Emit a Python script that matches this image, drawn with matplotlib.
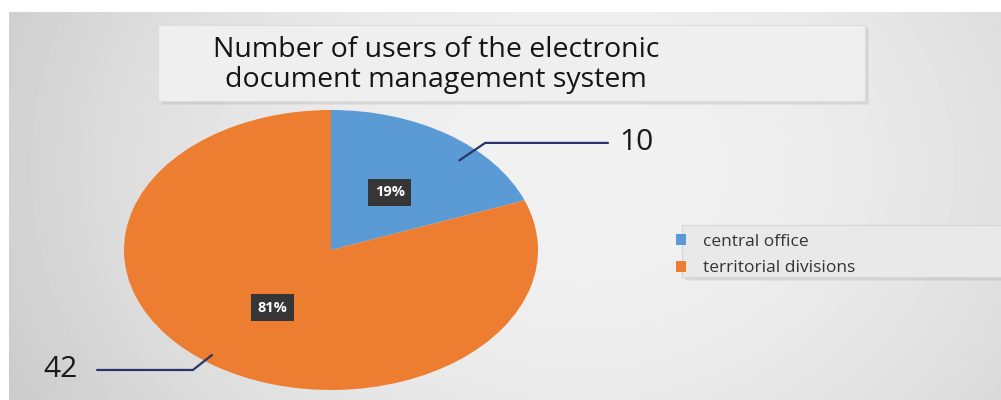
import matplotlib.pyplot as plt
import numpy as np
from matplotlib.patches import Rectangle

# data
categories = ['central office', 'territorial divisions']
values = [10, 42]
colors = ['#5b9bd5', '#ed7d31']
title_lines = ['Number of users of the electronic', 'document management system']

plt.rcParams['font.family'] = ['Open Sans', 'DejaVu Sans']

fig = plt.figure(figsize=(10.01, 4), dpi=100)
fig.patch.set_facecolor('white')

# background axes in pixel coordinates
bg = fig.add_axes([0, 0, 1, 1], zorder=0)
bg.set_xlim(0, 1001)
bg.set_ylim(400, 0)
bg.axis('off')

# soft grey gradient
xx, yy = np.meshgrid(np.linspace(0, 1, 300), np.linspace(0, 1, 120))
shade = 0.945 - 0.13 * ((xx - 0.58) / 0.6) ** 2 - 0.03 * ((yy - 0.4) / 0.6) ** 2
bg.imshow(shade, cmap='gray', vmin=0, vmax=1, extent=(9, 1001, 400, 12),
          aspect='auto', interpolation='bicubic', zorder=0)

# title box with a little shadow
for off, a in [(4, 0.10), (2.5, 0.12), (1.2, 0.15)]:
    bg.add_patch(Rectangle((158 + off, 25 + off), 707, 76, facecolor='#888888',
                           edgecolor='none', alpha=a, zorder=1))
bg.add_patch(Rectangle((158, 25), 707, 76, facecolor='#efefef',
                       edgecolor='#dddddd', linewidth=0.8, zorder=2))
bg.text(436, 50, title_lines[0], ha='center', va='center', fontsize=20.5,
        color='#151515', zorder=3)
bg.text(436, 80, title_lines[1], ha='center', va='center', fontsize=20.5,
        color='#151515', zorder=3)

# legend box
for off, a in [(4, 0.10), (2.5, 0.12), (1.2, 0.15)]:
    bg.add_patch(Rectangle((682 + off, 225 + off), 330, 52, facecolor='#888888',
                           edgecolor='none', alpha=a, zorder=1))
bg.add_patch(Rectangle((682, 225), 330, 52, facecolor='#e9e9e9',
                       edgecolor='#d6d6d6', linewidth=0.8, zorder=2))

# pie axes, stretched to an ellipse like the original
ax = fig.add_axes([124 / 1001, 10 / 400, 414 / 1001, 280 / 400], zorder=2)
ax.patch.set_alpha(0)
wedges, texts, autotexts = ax.pie(values, colors=colors, startangle=90,
                                  counterclock=False, autopct='%1.0f%%',
                                  pctdistance=0.5,
                                  wedgeprops=dict(linewidth=0))
ax.set_aspect('auto')
ax.set_xlim(-1, 1)
ax.set_ylim(-1, 1)

for t in autotexts:
    t.set_color('white')
    t.set_fontweight('bold')
    t.set_fontsize(10.5)
    t.set_bbox(dict(boxstyle='square,pad=0.45', facecolor='#363636', edgecolor='none'))

# value labels with elbow leader lines
line_color = '#2b3468'
for w, v, side in zip(wedges, values, [1, -1]):
    if side > 0:
        x0, y0 = 0.62, 0.64
        ex, ey = 0.745, 0.765
        xe = 1.338
        gap = 0.055
    else:
        x0, y0 = -0.575, -0.75
        ex, ey = -0.667, -0.857
        xe = -1.13
        gap = 0.095
    ax.plot([x0, ex, xe], [y0, ey, ey], color=line_color, lw=1.6,
            clip_on=False, solid_capstyle='round')
    ax.text(xe + side * gap, ey, str(v), ha='left' if side > 0 else 'right',
            va='center', fontsize=21.5, color='#1a1a1a', clip_on=False)

# legend
fig.legend(wedges, categories, loc='upper left',
           bbox_to_anchor=(660 / 1001, 1 - 218 / 400), frameon=False,
           handlelength=0.6, handleheight=0.6, handletextpad=1.0,
           labelspacing=0.62, fontsize=12.5, labelcolor='#333333')

fig.savefig('out.png', dpi=100)
